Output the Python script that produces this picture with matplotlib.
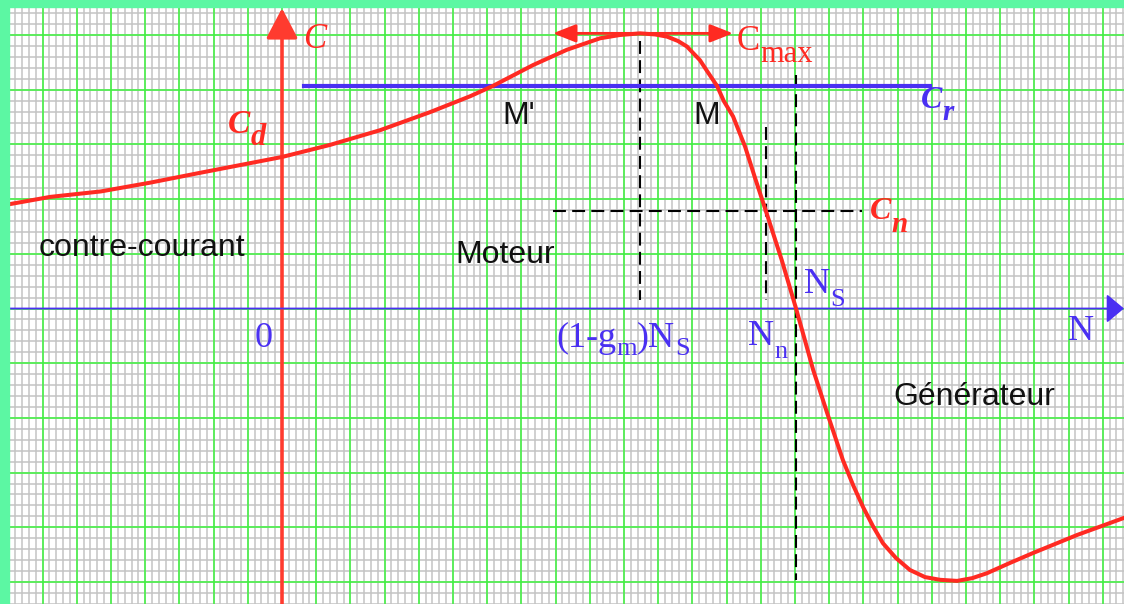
import numpy as np
import matplotlib.pyplot as plt
from matplotlib.patches import Rectangle
from matplotlib.ticker import MultipleLocator

# torque / speed characteristic of the induction machine (grid units)
speed = [-8.3, -6.78, -5.3, -3.86, -2.4, 0.0, 1.40, 2.87, 4.33, 5.50, 6.17,
         7.34, 8.33, 9.30, 9.88, 10.47, 10.91, 11.26, 11.58, 11.84, 12.22,
         12.43, 12.72, 12.92, 13.19, 13.54, 13.83, 14.15, 14.61, 15.03, 15.29,
         15.53, 15.94, 16.40, 16.70, 16.99, 17.28, 17.57, 17.95, 18.36, 18.80,
         19.24, 19.74, 20.18, 20.61, 21.29, 21.96, 23.25, 24.7]
torque = [1.87, 2.04, 2.14, 2.30, 2.48, 2.77, 2.99, 3.26, 3.59, 3.88, 4.07,
          4.45, 4.73, 4.94, 5.00, 5.03, 5.01, 4.97, 4.89, 4.79, 4.54,
          4.34, 4.07, 3.79, 3.51, 2.96, 2.39, 1.78, 0.89, 0.0, -0.58,
          -1.12, -1.91, -2.77, -3.23, -3.63, -3.98, -4.29, -4.56, -4.78, -4.91,
          -4.96, -4.98, -4.93, -4.84, -4.65, -4.47, -4.14, -3.81]

c_max = 5.03        # peak torque
n_cmax = 10.47      # (1-gm)Ns
c_r = 4.07          # load torque
c_n = 1.78          # nominal torque
n_n = 14.15         # nominal speed
n_s = 15.03         # synchronous speed

RED = '#ff2a22'
BLUE = '#4a30f2'
GREEN = '#3df53d'
GREY = '#c3c3c3'
MINT = '#5cf7a3'

xmin, xmax = -282 / 34.2, (1124 - 282) / 34.2
ymin, ymax = (308.5 - 604) / 54.7, 308.5 / 54.7

fig = plt.figure(figsize=(11.24, 6.04), dpi=100)
ax = fig.add_axes([0, 0, 1, 1])
ax.set_xlim(xmin, xmax)
ax.set_ylim(ymin, ymax)
for s in ax.spines.values():
    s.set_visible(False)

# graph paper
ax.xaxis.set_major_locator(MultipleLocator(0.2))
ax.yaxis.set_major_locator(MultipleLocator(0.2))
ax.tick_params(length=0, labelbottom=False, labelleft=False)
ax.set_axisbelow(True)
ax.grid(True, color=GREY, lw=1.1)
ax.vlines(np.arange(np.ceil(xmin), xmax), ymin, ymax, color=GREEN, lw=1.1, zorder=1)
ax.hlines(np.arange(np.ceil(ymin), ymax), xmin, xmax, color=GREEN, lw=1.1, zorder=1)

# axes with arrows
ax.annotate('', xy=(0, 5.49), xytext=(0, ymin),
            arrowprops=dict(arrowstyle='-|>,head_length=18.5,head_width=9.7',
                            mutation_scale=1, color='#ff3b2f', lw=2.6,
                            shrinkA=0, shrinkB=0), zorder=3)
ax.annotate('', xy=(xmax, 0), xytext=(-7.98, 0),
            arrowprops=dict(arrowstyle='-|>,head_length=10.8,head_width=9',
                            mutation_scale=1, color=BLUE, lw=1.3,
                            shrinkA=0, shrinkB=0), zorder=3)

# construction lines
dash = (0, (6.2, 3.0))
ax.plot([n_cmax, n_cmax], [4.89, 0.15], color='k', lw=1.5, ls=dash, zorder=2)
ax.plot([n_n, n_n], [3.32, 0.15], color='k', lw=1.5, ls=dash, zorder=2)
ax.plot([n_s, n_s], [4.27, -4.96], color='k', lw=1.5, ls=dash, zorder=2)
ax.plot([7.92, 16.96], [c_n, c_n], color='k', lw=1.5, ls=dash, zorder=2)

# load torque line
ax.plot([0.64, 18.95], [c_r, c_r], color=BLUE, lw=3, zorder=3)

# characteristic
ax.plot(speed, torque, color=RED, lw=2.9, solid_capstyle='round',
        solid_joinstyle='round', zorder=4)

# Cmax double arrow
ax.annotate('', xy=(13.19, c_max), xytext=(7.92, c_max),
            arrowprops=dict(arrowstyle='<|-|>,head_length=14,head_width=5.5',
                            mutation_scale=1, color=RED, lw=2,
                            shrinkA=0, shrinkB=0), zorder=4)


def label(x, y, parts, color, **font):
    prev = ax.text(x, y, parts[0][0], fontsize=parts[0][1], color=color,
                   ha='left', va='baseline', zorder=6, **font)
    for s, size, drop in parts[1:]:
        prev = ax.annotate(s, xy=(1, y), xycoords=(prev, 'data'),
                           xytext=(0, -drop), textcoords='offset points',
                           fontsize=size, color=color, ha='left',
                           va='baseline', zorder=6, **font)
    return prev


serif = dict(family='Liberation Serif')
bold_it = dict(family='Liberation Serif', style='italic', weight='bold')
sans = dict(family='Liberation Sans')

label(0.61, 4.76, [('C', 25, 0)], RED, family='Liberation Serif', style='italic')
label(-1.58, 3.21, [('C', 24, 0), ('d', 22, 8.6)], RED, **bold_it)
label(13.30, 4.73, [('C', 25, 0), ('max', 22, 8.6)], RED, **serif)
label(18.68, 3.67, [('C', 23, 0), ('r', 21, 9)], BLUE, **bold_it)
label(17.19, 1.64, [('C', 23, 0), ('n', 21, 9.5)], RED, **bold_it)

label(-0.79, -0.70, [('0', 26)], BLUE, **serif)
label(8.01, -0.70, [('(1-g', 26, 0), ('m', 19, 6), (')N', 26, 0), ('S', 19, 6)], BLUE, **serif)
label(13.63, -0.67, [('N', 26, 0), ('n', 19, 9.5)], BLUE, **serif)
label(15.26, 0.29, [('N', 26, 0), ('S', 19, 9.5)], BLUE, **serif)
label(22.98, -0.58, [('N', 26)], BLUE, **serif)

for x, y, s in [(6.43, 3.37, "M'"), (12.02, 3.37, 'M'),
                (-7.11, 0.96, 'contre-courant'), (5.06, 0.83, 'Moteur'),
                (17.87, -1.76, 'Générateur')]:
    label(x, y, [(s, 23)], '#111111', **sans)

# border
ax.add_patch(Rectangle((0, 0), 9 / 1124, 1, transform=ax.transAxes,
                       color=MINT, zorder=10, clip_on=False))
ax.add_patch(Rectangle((0, 1 - 7 / 604), 1, 7 / 604, transform=ax.transAxes,
                       color=MINT, zorder=10, clip_on=False))

fig.savefig('out.png', dpi=100)
